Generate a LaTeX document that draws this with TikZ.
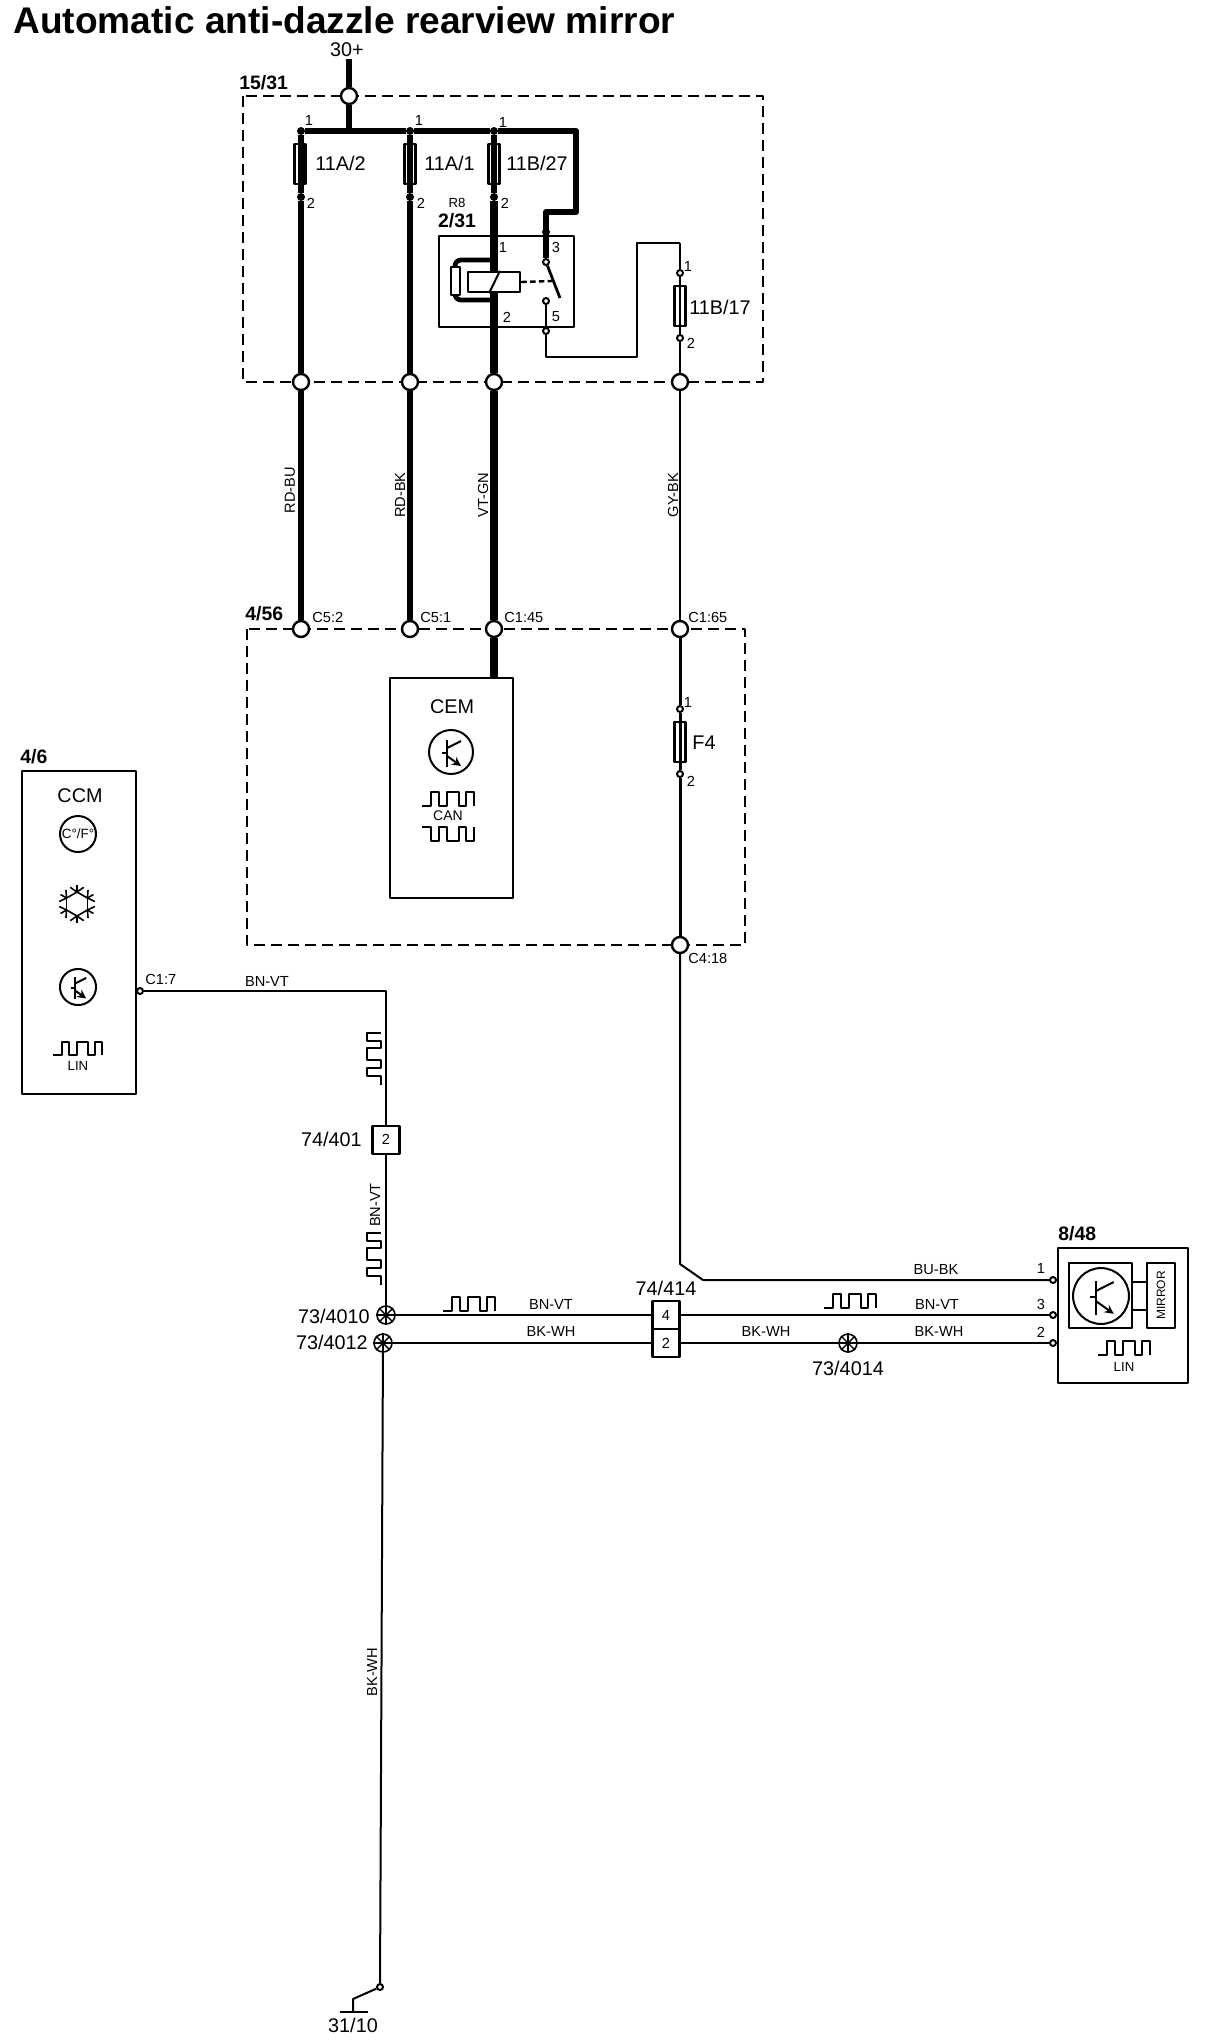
\documentclass[tikz,border=0pt]{standalone}
\usepackage{fontspec}
\setmainfont{Liberation Sans}
\tikzset{
  labelbig/.style = {font = \fontsize{9.9}{11}\selectfont},
  labelbold/.style = {font = \fontsize{9.7}{11}\selectfont\bfseries},
  labelsmall/.style = {font = \fontsize{7.3}{9}\selectfont},
  labeltiny/.style = {font = \fontsize{6.6}{8}\selectfont},
  terminal/.style = {circle, draw, fill = white, line width = 1.2pt, minimum size = 8pt},
  pinopen/.style = {circle, draw, fill = white, line width = 1pt, minimum size = 3pt},
  pindot/.style = {circle, fill, minimum size = 4pt},
  splice/.style = {circle, draw, fill = white, line width = 0.8pt, minimum size = 9pt},
  fuse/.style = {draw, line width = 1.2pt, minimum width = 5.6pt, minimum height = 20pt},
  plug/.style = {draw, fill = white, line width = 1.2pt, minimum width = 13.5pt, minimum height = 14pt},
  module/.style = {draw, line width = 1pt},
  frame/.style = {dash pattern = on 5.5pt off 3pt, line width = 1pt},
  wirefat/.style = {line width = 3.8pt},
  wirebus/.style = {line width = 3.1pt},
  wiremid/.style = {line width = 1.4pt},
  wirethin/.style = {line width = 1pt},
  pulse/.pic = {
    \draw [line width = 1pt] (0, 0) -- (9, 0) -- (9, -14) -- (17, -14) -- (17, 0) -- (25, 0) -- (25, -14)
      -- (37, -14) -- (37, 0) -- (44, 0) -- (44, -14) -- (52, -14) -- (52, 0);
  },
  transistor/.pic = {
    \draw [line width = 1pt] (0, 0) circle [radius = 22];
    \draw [line width = 1pt] (-9, 1) -- (-4, 1);
    \draw [line width = 1pt] (-4, -12) -- (-4, 15);
    \draw [line width = 1pt] (-4, -4) -- (10, -11);
    \draw [line width = 1pt, -stealth] (-4, 4) -- (10, 14);
  }
}
\begin{document}
\begin{tikzpicture}[x = 0.5pt, y = -0.5pt, line join = round, every node/.style = {inner sep = 0pt}]
  \useasboundingbox (0, 0) rectangle (1216, 2040);

  \node [font = \fontsize{18.55}{22}\selectfont\bfseries, anchor = west] (title) at (13, 20) {Automatic anti-dazzle rearview mirror};

  % frames
  \draw [frame] (243, 96) rectangle (763, 382);
  \draw [frame] (247, 629) rectangle (745, 945);

  % terminals
  \coordinate (top30) at (349, 59);
  \node [terminal] (term30) at (349, 96) {};
  \node [terminal] (termA) at (301, 382) {};
  \node [terminal] (termB) at (410, 382) {};
  \node [terminal] (termC) at (494, 382) {};
  \node [terminal] (termD) at (680, 382) {};
  \node [terminal] (cfivetwo) at (301, 629) {};
  \node [terminal] (cfiveone) at (410, 629) {};
  \node [terminal] (cforty) at (494, 629) {};
  \node [terminal] (csixty) at (680, 629) {};
  \node [terminal] (cfour) at (680, 945) {};

  % bus and fuses
  \node [pindot] (busA) at (301, 131) {};
  \node [pindot] (busB) at (410, 131) {};
  \node [pindot] (busC) at (494, 131) {};
  \coordinate (busD) at (576, 131);
  \coordinate (busE) at (576, 212);
  \coordinate (busF) at (546, 212);
  \coordinate (busG) at (349, 131);
  \node [pindot] (lowA) at (301, 197) {};
  \node [pindot] (lowB) at (410, 197) {};
  \node [pindot] (lowC) at (494, 197) {};
  \node [pindot] (relayA) at (494, 232) {};
  \node [pindot] (relayB) at (494, 331) {};
  \node [pindot] (relayC) at (546, 232) {};
  \node [fuse] (fuseA) at (300, 164) {};
  \node [fuse] (fuseB) at (410, 164) {};
  \node [fuse] (fuseC) at (494, 164) {};

  % relay
  \node [module, minimum width = 67.5pt, minimum height = 45.5pt, line width = 0.9pt] (relay) at (506.5, 281.5) {};
  \node [pinopen] (swA) at (546, 262) {};
  \node [pinopen] (swB) at (546, 301) {};
  \node [pinopen] (swC) at (546, 331) {};
  \coordinate (armend) at (560, 298);
  \coordinate (armmid) at (552, 281);
  \coordinate (lineA) at (546, 357);
  \coordinate (lineB) at (637, 357);
  \coordinate (lineC) at (637, 243);
  \coordinate (lineD) at (680, 243);

  \draw [wirebus] (top30) -- (term30);
  \draw [wirebus] (term30) -- (busG);
  \draw [wirebus] (busA) -- (busB) -- (busC) -- (busD) -- (busE) -- (busF) -- (swA);
  \draw [wirebus] (busA) -- (lowA) -- (termA);
  \draw [wirebus] (busB) -- (lowB) -- (termB);
  \draw [wirebus] (busC) -- (lowC);
  \draw [wirefat] (lowC) -- (termC);
  \draw [wirebus] (termA) -- (cfivetwo);
  \draw [wirebus] (termB) -- (cfiveone);
  \draw [wirefat] (termC) -- (cforty);
  \draw [line width = 1.4pt] (swA) -- (armend);
  \draw [wiremid] (swB) -- (swC) -- (lineA) -- (lineB) -- (lineC) -- (lineD);

  \draw [line width = 2.4pt, rounded corners = 3pt] (494, 260) -- (455, 260) -- (455, 300) -- (494, 300);
  \node [draw, fill = white, line width = 1pt, minimum width = 4.5pt, minimum height = 14pt] (damper) at (455, 280.5) {};
  \node [draw, fill = white, line width = 1.2pt, minimum width = 26pt, minimum height = 10pt] (coil) at (494, 282) {};
  \draw [line width = 1pt] ([xshift = -2.5pt] coil.south) -- ([xshift = 3pt] coil.north);
  \draw [line width = 1.2pt, dash pattern = on 2.8pt off 1.6pt] (coil.east) -- (armmid);

  % fuse on the right
  \node [pinopen] (pinone) at (680, 273) {};
  \node [pinopen] (pintwo) at (680, 338) {};
  \node [fuse] (fuseD) at (680, 306) {};
  \draw [wirethin] (lineD) -- (pinone) -- (pintwo) -- (termD);
  \draw [wirethin] (termD) -- (csixty);

  % central module
  \node [module, minimum width = 61.5pt, minimum height = 110pt] (cem) at (451.5, 788) {};
  \draw [wirefat] (cforty) -- (cforty |- cem.north);
  \pic at (451, 752) {transistor};
  \pic at (422, 806) {pulse};
  \pic [yscale = -1] at (422, 827) {pulse};
  \node [pinopen] (fourone) at (680, 709) {};
  \node [pinopen] (fourtwo) at (680, 774) {};
  \node [fuse] (fuseF) at (680, 742) {};
  \draw [line width = 1.5pt] (csixty) -- (fourone) -- (fourtwo) -- (cfour);

  % climate module
  \node [module, line width = 1.2pt, minimum width = 57pt, minimum height = 161.5pt] (ccm) at (79, 932.5) {};
  \node [circle, draw, line width = 1pt, minimum size = 18pt, font = \fontsize{6.7}{8}\selectfont] (unit) at (78, 834) {C°/F°};
  \coordinate (flake) at (77, 904);
  \begin{scope}[shift = {(flake)}, line width = 0.8pt]
    \foreach \ang in {30, 90, ..., 330} {
      \draw (\ang:12) -- (\ang + 60:12);
      \draw (\ang:12) -- (\ang:19);
      \draw (\ang:12) -- (\ang - 22:18);
      \draw (\ang:12) -- (\ang + 22:18);
    }
  \end{scope}
  \pic [scale = 0.82] at (78, 987) {transistor};
  \pic [scale = 0.95] at (53, 1055) {pulse};

  % mirror module
  \node [module, minimum width = 65pt, minimum height = 67.5pt] (mirrorunit) at (1123, 1315.5) {};
  \node [module, line width = 1.2pt, minimum width = 31.5pt, minimum height = 32.5pt] (transbox) at (1100.5, 1295.5) {};
  \node [module, rotate = 90, minimum width = 32.5pt, minimum height = 14pt, line width = 1.2pt, font = \fontsize{6}{7}\selectfont] (mirrorbox) at (1161, 1295.5) {MIRROR};
  \draw [wirethin] ([yshift = 7pt] transbox.east) -- ([yshift = 7pt] transbox.east -| mirrorbox.north);
  \draw [wirethin] ([yshift = -7pt] transbox.east) -- ([yshift = -7pt] transbox.east -| mirrorbox.north);
  \pic [scale = 1.27] at (1101, 1296) {transistor};
  \pic at (1098, 1355) {pulse};
  \node [pinopen] (pinfirst) at (1053, 1280) {};
  \node [pinopen] (pinthird) at (1053, 1315) {};
  \node [pinopen] (pinsecond) at (1053, 1343) {};

  % lower wiring
  \node [pinopen] (cseven) at (140, 991) {};
  \coordinate (lincorner) at (386, 991);
  \node [plug] (plugtop) at (386, 1140) {};
  \node [splice] (spliceA) at (386, 1315) {};
  \node [splice] (spliceB) at (383, 1343) {};
  \node [splice] (spliceC) at (848, 1343) {};
  \node [plug] (plugfour) at (666, 1315) {};
  \node [plug] (plugtwo) at (666, 1343) {};
  \foreach \name in {spliceA, spliceB, spliceC} {
    \foreach \start/\stop in {0/180, 45/225, 90/270, 135/315} {
      \draw [line width = 0.7pt] (\name.\start) -- (\name.\stop);
    }
  }
  \node [pinopen] (earthpin) at (380, 1987) {};
  \coordinate (earthA) at (353, 1999);
  \coordinate (earthB) at (353, 2012);
  \coordinate (earthL) at (340, 2012);
  \coordinate (earthR) at (368, 2012);
  \coordinate (kneeA) at (680, 1264);
  \coordinate (kneeB) at (703, 1280);

  \draw [wirethin] (cseven) -- (lincorner) -- (plugtop);
  \draw [wirethin] (plugtop) -- (spliceA);
  \draw [wirethin] (cfour) -- (kneeA) -- (kneeB) -- (pinfirst);
  \draw [wiremid] (spliceA) -- (plugfour);
  \draw [wiremid] (plugfour) -- (pinthird);
  \draw [wirethin] (spliceB) -- (plugtwo);
  \draw [wirethin] (plugtwo) -- (spliceC);
  \draw [wirethin] (spliceC) -- (pinsecond);
  \draw [wirethin] (spliceB) -- (earthpin);
  \draw [wirethin] (earthpin) -- (earthA) -- (earthB);
  \draw [wirethin] (earthL) -- (earthR);
  \pic [rotate = 90] at (381, 1085) {pulse};
  \pic [rotate = 90] at (381, 1285) {pulse};
  \pic at (443, 1311) {pulse};
  \pic at (824, 1308) {pulse};

  % labels
  \node [labelbig] (name30) at (347, 50) {30+};
  \node [labelbold, anchor = west] (namefuse) at (239, 83) {15/31};
  \node [labelsmall] (numA) at (309, 120) {1};
  \node [labelsmall] (numB) at (419, 120) {1};
  \node [labelsmall] (numC) at (503, 122) {1};
  \node [labelsmall] (numD) at (311, 203) {2};
  \node [labelsmall] (numE) at (421, 203) {2};
  \node [labelsmall] (numF) at (505, 203) {2};
  \node [labelbig, anchor = west] (nameA) at (315, 163) {11A/2};
  \node [labelbig, anchor = west] (nameB) at (424, 163) {11A/1};
  \node [labelbig, anchor = west] (nameC) at (506, 163) {11B/27};
  \node [labelbig, anchor = west] (nameD) at (689, 307) {11B/17};
  \node [labeltiny] (namerelay) at (457, 203) {R8};
  \node [labelbold] (coderelay) at (457, 221) {2/31};
  \node [labelsmall] (numG) at (503, 247) {1};
  \node [labelsmall] (numH) at (507, 317) {2};
  \node [labelsmall] (numI) at (556, 247) {3};
  \node [labelsmall] (numJ) at (556, 317) {5};
  \node [labelsmall] (numK) at (688, 266) {1};
  \node [labelsmall] (numL) at (691, 343) {2};
  \node [labelsmall, rotate = 90] (cableA) at (290, 490) {RD-BU};
  \node [labelsmall, rotate = 90] (cableB) at (400, 495) {RD-BK};
  \node [labelsmall, rotate = 90] (cableC) at (483, 495) {VT-GN};
  \node [labelsmall, rotate = 90] (cableD) at (673, 495) {GY-BK};
  \node [labelbold, anchor = west] (namecem) at (245, 614) {4/56};
  \node [labelsmall, anchor = west] (pinA) at (312, 617) {C5:2};
  \node [labelsmall, anchor = west] (pinB) at (420, 617) {C5:1};
  \node [labelsmall, anchor = west] (pinC) at (504, 617) {C1:45};
  \node [labelsmall, anchor = west] (pinD) at (688, 617) {C1:65};
  \node [labelsmall, anchor = west] (pinE) at (688, 958) {C4:18};
  \node [labelbig] (textcem) at (452, 707) {CEM};
  \node [font = \fontsize{7}{8}\selectfont] (textcan) at (448, 816) {CAN};
  \node [labelsmall] (numM) at (688, 702) {1};
  \node [labelsmall] (numN) at (691, 781) {2};
  \node [labelbig, anchor = west] (namefour) at (692, 743) {F4};
  \node [labelbold, anchor = west] (nameccm) at (20, 757) {4/6};
  \node [labelbig] (textccm) at (80, 796) {CCM};
  \node [labeltiny] (textlin) at (78, 1066) {LIN};
  \node [labelsmall, anchor = west] (pinF) at (145, 979) {C1:7};
  \node [labelsmall] (cableE) at (267, 981) {BN-VT};
  \node [labelbig, anchor = east] (nameplug) at (362, 1139) {74/401};
  \node [labelsmall] (numO) at (386, 1139) {2};
  \node [labelsmall, rotate = 90] (cableF) at (375, 1205) {BN-VT};
  \node [labelbig, anchor = east] (namesplA) at (370, 1316) {73/4010};
  \node [labelbig, anchor = east] (namesplB) at (368, 1342) {73/4012};
  \node [labelsmall] (cableG) at (551, 1304) {BN-VT};
  \node [labelsmall] (cableH) at (551, 1331) {BK-WH};
  \node [labelbig] (nameplugs) at (666, 1288) {74/414};
  \node [labelsmall] (numP) at (666, 1315) {4};
  \node [labelsmall] (numQ) at (666, 1343) {2};
  \node [labelsmall] (cableI) at (766, 1331) {BK-WH};
  \node [labelbig] (namesplC) at (848, 1368) {73/4014};
  \node [labelsmall] (cableJ) at (936, 1270) {BU-BK};
  \node [labelsmall] (cableK) at (937, 1304) {BN-VT};
  \node [labelsmall] (cableL) at (939, 1331) {BK-WH};
  \node [labelsmall] (numR) at (1041, 1268) {1};
  \node [labelsmall] (numS) at (1041, 1304) {3};
  \node [labelsmall] (numT) at (1041, 1332) {2};
  \node [labelbold, anchor = west] (namemirror) at (1058, 1234) {8/48};
  \node [labeltiny] (textlinb) at (1124, 1367) {LIN};
  \node [labelsmall, rotate = 90] (cableM) at (372, 1672) {BK-WH};
  \node [labelbig] (nameearth) at (353, 2025) {31/10};
\end{tikzpicture}
\end{document}
